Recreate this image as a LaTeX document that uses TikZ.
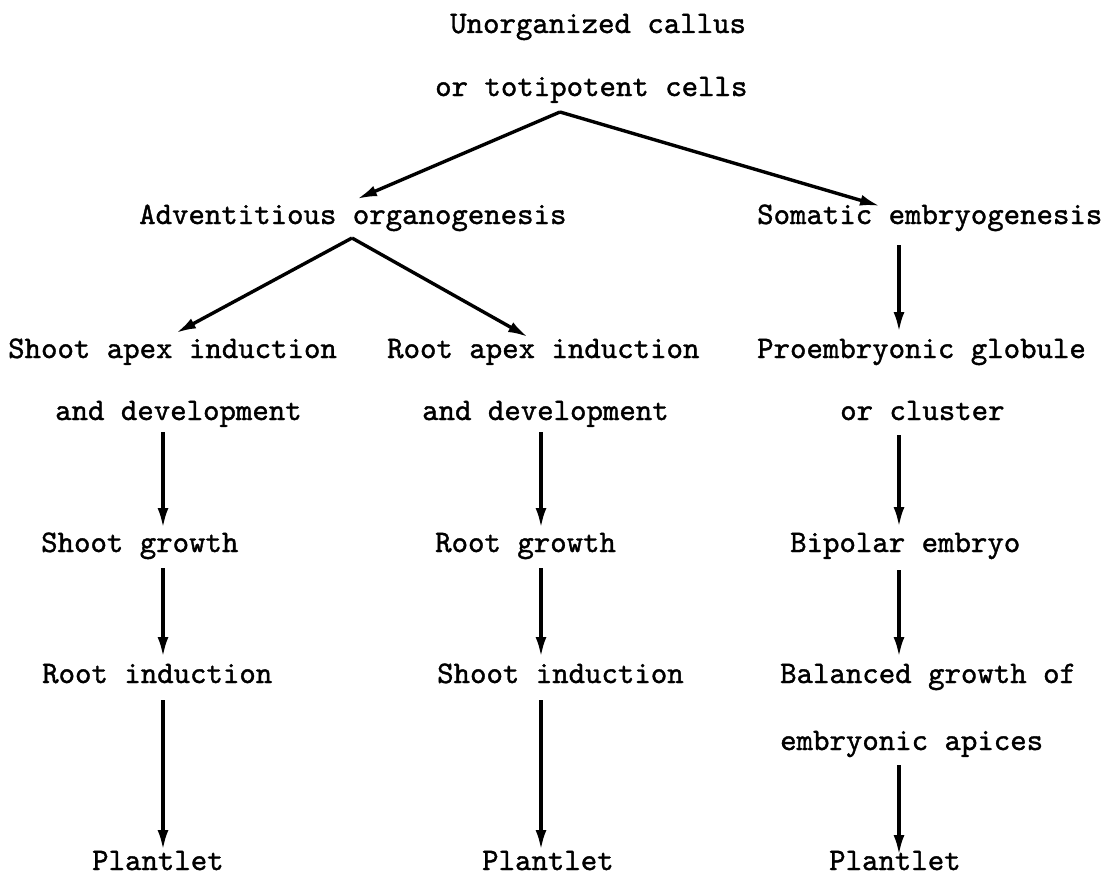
\documentclass[tikz,border=0pt]{standalone}
\usepackage{fontspec}
\newfontfamily\twfont{lmmono10-regular}[Extension=.otf,FakeBold=1.2]
\usetikzlibrary{arrows.meta}
\begin{document}
\begin{tikzpicture}[x=1pt,y=-1pt,
  lbl/.style={anchor=base west,inner sep=0pt,font=\twfont\fontsize{31.3}{36}\selectfont},
  arr/.style={line width=3.4pt,-{Latex[length=20pt,width=11pt]}}]
\fill[white] (0,0) rectangle (1106,883);
\useasboundingbox (0,0) rectangle (1106,883);
% texts
\node[lbl] (u1) at (450,33) {Unorganized callus};
\node[lbl] (u2) at (435,96) {or totipotent cells};
\node[lbl] (adv) at (139,224) {Adventitious organogenesis};
\node[lbl] (som) at (757,224) {Somatic embryogenesis};
\node[lbl] (sa1) at (8,358) {Shoot apex induction};
\node[lbl] (sa2) at (55,420) {and development};
\node[lbl] (ra1) at (387,358) {Root apex induction};
\node[lbl] (ra2) at (422,420) {and development};
\node[lbl] (pe1) at (757,358) {Proembryonic globule};
\node[lbl] (pe2) at (840,420) {or cluster};
\node[lbl] (sg) at (41,552) {Shoot growth};
\node[lbl] (rg) at (435,552) {Root growth};
\node[lbl] (be) at (790,552) {Bipolar embryo};
\node[lbl] (ri) at (42,683) {Root induction};
\node[lbl] (si) at (437,683) {Shoot induction};
\node[lbl] (bg1) at (780,683) {Balanced growth of};
\node[lbl] (bg2) at (780,750) {embryonic apices};
\node[lbl] (p1) at (92,870) {Plantlet};
\node[lbl] (p2) at (482,870) {Plantlet};
\node[lbl] (p3) at (829,870) {Plantlet};
% connector points
\coordinate (s0) at (560,112);
\coordinate (tadv) at (357,199);
\coordinate (tsom) at (880,206);
\coordinate (s1) at (352,238);
\coordinate (tsa) at (176,333);
\coordinate (tra) at (528,337);
% diagonal arrows
\draw[arr] (s0) -- (tadv);
\draw[arr] (s0) -- (tsom);
\draw[arr] (s1) -- (tsa);
\draw[arr] (s1) -- (tra);
% left column
\coordinate (l1a) at (163,432); \coordinate (l1b) at (163,528);
\coordinate (l2a) at (163,568); \coordinate (l2b) at (163,657);
\coordinate (l3a) at (163,700); \coordinate (l3b) at (163,850);
\draw[arr] (l1a) -- (l1b);
\draw[arr] (l2a) -- (l2b);
\draw[arr] (l3a) -- (l3b);
% middle column
\coordinate (m1a) at (541,432); \coordinate (m1b) at (541,528);
\coordinate (m2a) at (541,568); \coordinate (m2b) at (541,657);
\coordinate (m3a) at (541,700); \coordinate (m3b) at (541,850);
\draw[arr] (m1a) -- (m1b);
\draw[arr] (m2a) -- (m2b);
\draw[arr] (m3a) -- (m3b);
% right column
\coordinate (r1a) at (899,245); \coordinate (r1b) at (899,332);
\coordinate (r2a) at (899,435); \coordinate (r2b) at (899,527);
\coordinate (r3a) at (899,570); \coordinate (r3b) at (899,657);
\coordinate (r4a) at (899,765); \coordinate (r4b) at (899,855);
\draw[arr] (r1a) -- (r1b);
\draw[arr] (r2a) -- (r2b);
\draw[arr] (r3a) -- (r3b);
\draw[arr] (r4a) -- (r4b);
\end{tikzpicture}
\end{document}
